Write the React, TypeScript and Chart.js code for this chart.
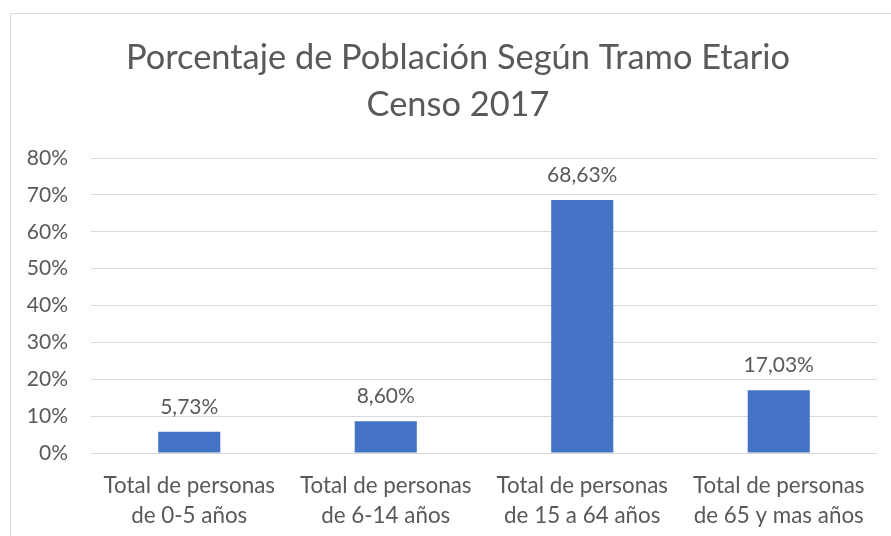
import React, { useEffect, useRef } from "react";
import { Chart, registerables } from "chart.js";

Chart.register(...registerables);

const categories: string[][] = [
  ["Total de personas", "de 0-5 años"],
  ["Total de personas", "de 6-14 años"],
  ["Total de personas", "de 15 a 64 años"],
  ["Total de personas", "de 65 y mas años"],
];
const values: number[] = [5.73, 8.6, 68.63, 17.03];
const titleLines: string[] = ["Porcentaje de Población Según Tramo Etario", "Censo 2017"];
const yMin = 0;
const yMax = 80;
const yStep = 10;

const FONT = "Lato, 'Open Sans', sans-serif";
const TEXT = "#595959";
const GRID = "#d9d9d9";
const BAR = "#4472C4";

const fmt = (v: number) => v.toFixed(2).replace(".", ",") + "%";

const dataLabels = {
  id: "dataLabels",
  afterDatasetsDraw(chart: any) {
    const ctx = chart.ctx;
    const meta = chart.getDatasetMeta(0);
    ctx.save();
    ctx.font = `21px ${FONT}`;
    ctx.fillStyle = TEXT;
    ctx.textAlign = "center";
    ctx.textBaseline = "alphabetic";
    meta.data.forEach((bar: any, i: number) => {
      ctx.fillText(fmt(values[i]), bar.x, bar.y - 18);
    });
    ctx.restore();
  },
};

// Title centred on the chart frame (which extends past the right edge of the picture)
const frameTitle = {
  id: "frameTitle",
  afterDraw(chart: any) {
    const ctx = chart.ctx;
    ctx.save();
    ctx.font = `34.4px ${FONT}`;
    ctx.fillStyle = TEXT;
    ctx.textAlign = "center";
    ctx.textBaseline = "middle";
    titleLines.forEach((line, i) => {
      ctx.fillText(line, 458, 57.5 + i * 47);
    });
    ctx.restore();
  },
};

export default function App() {
  const ref = useRef<HTMLCanvasElement>(null);
  useEffect(() => {
    if (!ref.current) return;
    const chart = new Chart(ref.current, {
      type: "bar",
      data: {
        labels: categories,
        datasets: [
          {
            data: values,
            backgroundColor: BAR,
            barPercentage: 0.316,
            categoryPercentage: 1,
          },
        ],
      },
      options: {
        responsive: false,
        animation: false,
        devicePixelRatio: 1,
        layout: { padding: { left: 0, right: 14, top: 158, bottom: 0 } },
        plugins: {
          legend: { display: false },
          tooltip: { enabled: false },
          title: { display: false },
        },
        scales: {
          x: {
            grid: { display: false },
            border: { display: false },
            ticks: {
              color: TEXT,
              font: { family: FONT, size: 22.4, lineHeight: 1.34 },
              padding: 10,
              maxRotation: 0,
              autoSkip: false,
            },
            afterFit(scale: any) {
              scale.height = 83;
            },
          },
          y: {
            min: yMin,
            max: yMax,
            grid: { color: GRID, lineWidth: 1, drawTicks: false },
            border: { display: false },
            ticks: {
              stepSize: yStep,
              color: TEXT,
              font: { family: FONT, size: 21 },
              padding: 23,
              callback: (v: any) => v + "%",
            },
            afterFit(scale: any) {
              scale.width = 91;
            },
          },
        },
      },
      plugins: [dataLabels, frameTitle],
    });
    return () => chart.destroy();
  }, []);
  return (
    <div style={{ position: "absolute", left: 0, top: 0, width: 891, height: 536, overflow: "hidden", background: "#fff" }}>
      <div
        style={{
          position: "absolute",
          left: 10,
          top: 13,
          width: 900,
          height: 600,
          borderLeft: "1px solid #d9d9d9",
          borderTop: "1px solid #d9d9d9",
        }}
      />
      <canvas ref={ref} width={891} height={536} style={{ position: "absolute", left: 0, top: 0 }} />
    </div>
  );
}
